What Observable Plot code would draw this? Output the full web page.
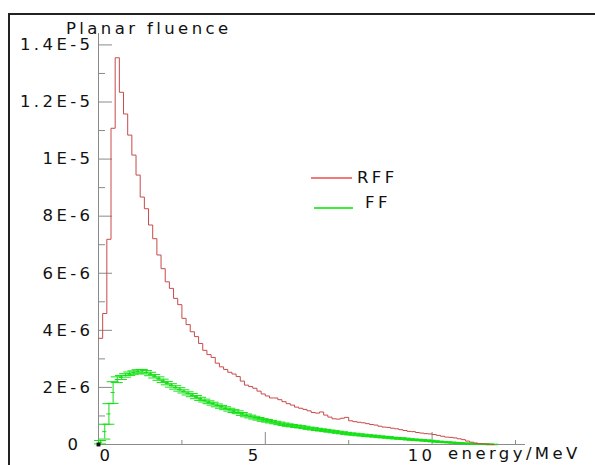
<!DOCTYPE html>
<html><head><meta charset="utf-8">
<script src="https://cdn.jsdelivr.net/npm/d3@7"></script>
<script src="https://cdn.jsdelivr.net/npm/@observablehq/plot@0.6"></script>
<style>
html,body{margin:0;padding:0;background:#fff;}
#wrap{position:relative;width:595px;height:465px;overflow:hidden;font-family:"DejaVu Sans",sans-serif;background:#fff;}
#chart{position:absolute;left:0;top:0;}
.t{position:absolute;font-size:16.5px;letter-spacing:3.4px;color:#111;white-space:nowrap;line-height:normal;}
#frame{position:absolute;left:8px;top:13px;right:-5px;bottom:-5px;border-top:2px solid #222;border-left:2px solid #222;}
.sw{position:absolute;height:2px;}
#chart svg text{letter-spacing:3.4px;}
</style></head><body>
<div id="wrap">
  <div id="chart"></div>
  <div id="frame"></div>
  <div class="t" style="left:66px;top:19px">Planar fluence</div>
  <div class="t" style="left:448px;top:444px">energy/MeV</div>
  <div class="sw" style="left:311px;top:177px;width:41px;background:#f07a7a"></div>
  <div class="t" style="left:357px;top:168px">RFF</div>
  <div class="sw" style="left:314px;top:207px;width:39px;background:#3aee3a"></div>
  <div class="t" style="left:365px;top:193px">FF</div>
</div>
<script>
// ---- data (values in units of 1E-6, bins of 0.125 MeV starting at 0) ----
const binWidthMeV = 0.125;
const rffValues = [
  3.72, 4.59, 7.19, 11.08, 13.55, 12.34, 11.58, 10.84, 10.14, 9.44,
  8.67, 8.26, 7.69, 7.21, 6.64, 6.16, 5.70, 5.47, 5.12, 4.90,
  4.42, 4.20, 3.95, 3.78, 3.54, 3.30, 3.15, 3.05, 2.85, 2.72,
  2.63, 2.53, 2.47, 2.38, 2.22, 2.08, 2.03, 1.97, 1.87, 1.77,
  1.70, 1.63, 1.63, 1.57, 1.50, 1.43, 1.38, 1.31, 1.27, 1.23,
  1.18, 1.12, 1.10, 1.14, 1.03, 0.96, 0.90, 0.89, 0.92, 0.95,
  0.83, 0.80, 0.78, 0.76, 0.73, 0.70, 0.68, 0.64, 0.61, 0.60,
  0.57, 0.55, 0.52, 0.49, 0.46, 0.45, 0.42, 0.40, 0.38, 0.37,
  0.35, 0.32, 0.29, 0.26, 0.25, 0.23, 0.20, 0.17, 0.12, 0.08,
  0.05, 0.03, 0.02, 0.01, 0.00
];
const ffValues = [
  0.08, 0.45, 1.07, 1.82, 2.27, 2.35, 2.42, 2.48, 2.52, 2.56,
  2.57, 2.53, 2.47, 2.39, 2.31, 2.23, 2.15, 2.07, 2.00, 1.93,
  1.86, 1.79, 1.73, 1.66, 1.60, 1.54, 1.48, 1.43, 1.37, 1.32,
  1.27, 1.22, 1.17, 1.13, 1.07, 1.02, 0.98, 0.94, 0.90, 0.86,
  0.83, 0.80, 0.77, 0.74, 0.71, 0.68, 0.66, 0.64, 0.62, 0.60,
  0.57, 0.55, 0.53, 0.51, 0.49, 0.47, 0.45, 0.43, 0.41, 0.39,
  0.37, 0.36, 0.34, 0.33, 0.31, 0.30, 0.29, 0.27, 0.26, 0.25,
  0.23, 0.22, 0.21, 0.20, 0.18, 0.17, 0.16, 0.15, 0.14, 0.13,
  0.11, 0.10, 0.09, 0.08, 0.07, 0.06, 0.05, 0.04, 0.035, 0.03,
  0.02, 0.015, 0.01, 0.005, 0.002
];
const ffErrors = [
  0.06, 0.26, 0.36, 0.38, 0.10, 0.07, 0.06, 0.06, 0.06, 0.06,
  0.06, 0.06, 0.06, 0.06, 0.06, 0.06, 0.06, 0.06, 0.06, 0.06,
  0.055, 0.055, 0.055, 0.055, 0.055, 0.05, 0.05, 0.05, 0.05, 0.05,
  0.05, 0.05, 0.05, 0.05, 0.05, 0.048, 0.048, 0.048, 0.046, 0.046,
  0.045, 0.045, 0.044, 0.044, 0.043, 0.043, 0.042, 0.042, 0.041, 0.041,
  0.04, 0.04, 0.039, 0.039, 0.038, 0.038, 0.037, 0.037, 0.036, 0.036,
  0.035, 0.034, 0.033, 0.032, 0.031, 0.03, 0.03, 0.029, 0.028, 0.027,
  0.026, 0.025, 0.025, 0.024, 0.023, 0.022, 0.022, 0.021, 0.02, 0.02,
  0.019, 0.018, 0.017, 0.016, 0.015, 0.014, 0.013, 0.012, 0.011, 0.011,
  0.01, 0.01, 0.01, 0.01, 0.01
];
const yTickValues = [0, 2, 4, 6, 8, 10, 12, 14];
const yTickLabels = ["0", "2E-6", "4E-6", "6E-6", "8E-6", "1E-5", "1.2E-5", "1.4E-5"];
const yMinorTicks = [1, 3, 5, 7, 9, 11, 13];
const xMajorTicks = [0, 5, 10];
const xMinorTicks = [2.5, 7.5, 12.5];
const xTickLabels = ["0", "5", "10"];

// ---- derived tables ----
const rffSteps = rffValues.map((v, k) => ({e: k * binWidthMeV, v}));
rffSteps.push({e: rffValues.length * binWidthMeV, v: rffValues[rffValues.length - 1]});
const ffBins = ffValues.map((v, k) => ({
  lo: k * binWidthMeV, hi: (k + 1) * binWidthMeV, c: (k + 0.5) * binWidthMeV, v, err: ffErrors[k]
}));

const RED = "#c84a4a", GREEN = "#14e014", AXIS = "#8a8a8a";
const capHalf = 0.18;
const W = 595, H = 465, ML = 98, MR = 70, MT = 33, MB = 21;
const plotW = W - ML - MR, plotH = H - MT - MB;

const chart = Plot.plot({
  width: W, height: H,
  marginLeft: ML, marginRight: MR, marginTop: MT, marginBottom: MB,
  style: {background: "transparent", fontFamily: "DejaVu Sans, sans-serif", fontSize: "16.5px", color: "#111"},
  x: {domain: [0, 12.8], axis: null},
  y: {domain: [0, 14.4], axis: null},
  marks: [
    Plot.ruleX([0], {stroke: AXIS}),
    Plot.ruleY([0], {stroke: AXIS}),
    Plot.tickY(yTickValues, {y: d => d, stroke: AXIS, insetRight: plotW - 14}),
    Plot.tickY(yMinorTicks, {y: d => d, stroke: AXIS, insetRight: plotW - 7}),
    Plot.tickX(xMajorTicks, {x: d => d, stroke: AXIS, insetTop: plotH - 12}),
    Plot.tickX(xMinorTicks, {x: d => d, stroke: AXIS, insetTop: plotH - 4}),
    Plot.axisY(yTickValues.slice(1), {tickSize: 0, tickPadding: 5, label: null,
      tickFormat: d => yTickLabels[yTickValues.indexOf(d)]}),
    Plot.axisY([yTickValues[0]], {tickSize: 0, tickPadding: 17, label: null,
      tickFormat: d => yTickLabels[yTickValues.indexOf(d)]}),
    Plot.axisX([xMajorTicks[0]], {tickSize: 0, tickPadding: 5, dx: 8, label: null,
      tickFormat: d => xTickLabels[xMajorTicks.indexOf(d)]}),
    Plot.axisX(xMajorTicks.slice(1), {tickSize: 0, tickPadding: 5, dx: -10.5, label: null,
      tickFormat: d => xTickLabels[xMajorTicks.indexOf(d)]}),
    // FF with error bars
    Plot.ruleX(ffBins, {x: "c", y1: d => d.v - d.err, y2: d => d.v + d.err, stroke: GREEN, strokeWidth: 1}),
    Plot.ruleY(ffBins, {x1: d => d.c - capHalf, x2: d => d.c + capHalf, y: d => d.v - d.err, stroke: GREEN, strokeWidth: 1}),
    Plot.ruleY(ffBins, {x1: d => d.c - capHalf, x2: d => d.c + capHalf, y: d => d.v + d.err, stroke: GREEN, strokeWidth: 1}),
    Plot.ruleY(ffBins, {x1: "lo", x2: "hi", y: "v", stroke: GREEN, strokeWidth: 1}),
    // RFF step histogram
    Plot.line(rffSteps, {x: "e", y: "v", curve: "step-after", stroke: RED, strokeWidth: 1}),
    Plot.dot([{e: 0, v: 0}], {x: "e", y: "v", symbol: "square", r: 2.2, fill: "#111", stroke: null})
  ]
});
document.getElementById("chart").appendChild(chart);
</script>
</body></html>
